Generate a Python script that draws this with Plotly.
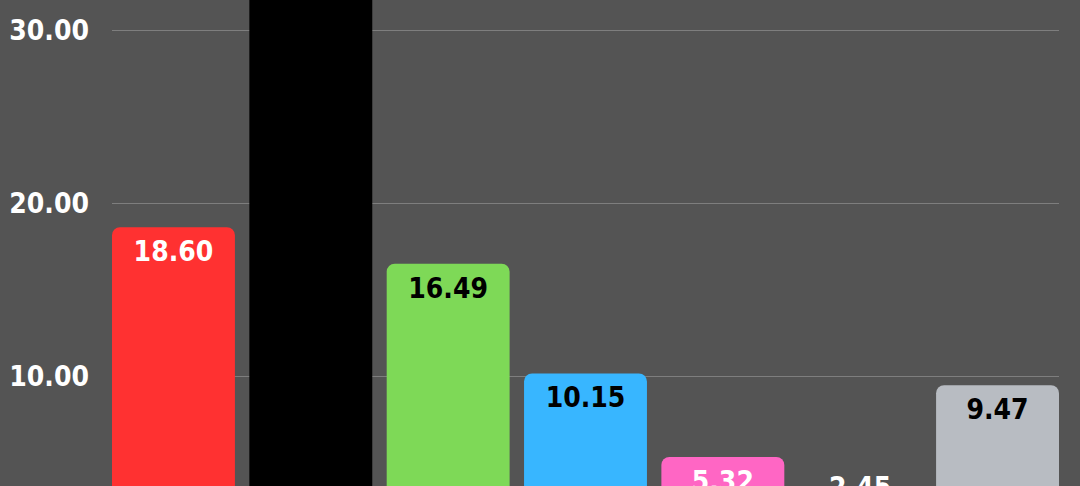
import plotly.graph_objects as go

# bar data (x axis labels are cut off in the picture)
categories = ["A", "B", "C", "D", "E", "F", "G"]
values = [18.60, 35.0, 16.49, 10.15, 5.32, 2.45, 9.47]
labels = ["18.60", "", "16.49", "10.15", "5.32", "2.45", "9.47"]
bar_colors = ["#FF3131", "#000000", "#7ED957", "#38B6FF", "#FF66C4", "#545454", "#B8BCC2"]
label_colors = ["#FFFFFF", "#FFFFFF", "#000000", "#000000", "#FFFFFF", "#FFFFFF", "#000000"]
y_ticks = [10, 20, 30]

BG = "#545454"
FONT = "Liberation Sans Narrow, DejaVu Sans Condensed, Roboto Condensed, sans-serif"
GAP = 0.105
SHORT = 3  # bars below this get their label above the bar

# the chart is taller than the window; only its top part shows (as in the reference)
WIN_H = 486
FIG_H = 560

fig = go.Figure()
fig.add_bar(
    x=categories,
    y=values,
    text=["<b>%s</b>" % t if t else "" for t in labels],
    textposition=["outside" if v < SHORT else "inside" for v in values],
    insidetextanchor="end",
    textangle=0,
    textfont=dict(family=FONT, size=28, color=label_colors),
    constraintext="none",
    marker=dict(color=bar_colors, cornerradius=8, line=dict(width=0)),
    hoverinfo="skip",
    cliponaxis=False,
)

fig.update_layout(
    width=1080,
    height=FIG_H,
    margin=dict(l=112, r=21, t=0, b=0),
    paper_bgcolor=BG,
    plot_bgcolor=BG,
    bargap=GAP,
    showlegend=False,
    xaxis=dict(
        range=[-0.5 + GAP / 2, len(categories) - 0.5 - GAP / 2],
        showticklabels=False,
        showgrid=False,
        zeroline=False,
        fixedrange=True,
    ),
    yaxis=dict(
        range=[-0.636, 31.734],
        tickvals=y_ticks,
        ticktext=["<b>%.2f</b>" % v for v in y_ticks],
        tickfont=dict(family=FONT, size=28, color="#FFFFFF"),
        ticklabelstandoff=22,
        gridcolor="#7E7E7E",
        gridwidth=1,
        zeroline=False,
        fixedrange=True,
    ),
)

fig.write_html(
    "out.html",
    config={"displayModeBar": False},
    post_script=(
        "document.body.style.margin='0';"
        "document.body.style.overflow='hidden';"
        "document.documentElement.style.overflow='hidden';"
    ),
)
